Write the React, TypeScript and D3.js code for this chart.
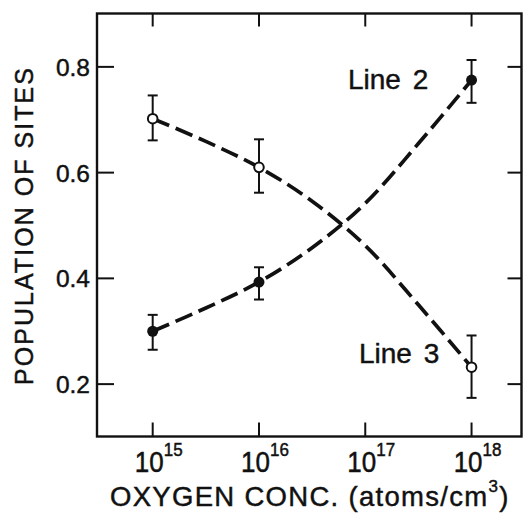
import React from "react";
import * as d3 from "d3";

const decades = [15, 16, 17, 18];
const yTicks = [0.2, 0.4, 0.6, 0.8];
const pointExp = [15, 16, 18];
const line2Values = [0.3, 0.393, 0.775];
const line2Lower = [0.265, 0.36, 0.732];
const line2Upper = [0.331, 0.421, 0.813];
const line3Values = [0.702, 0.61, 0.232];
const line3Lower = [0.661, 0.562, 0.174];
const line3Upper = [0.746, 0.663, 0.292];
const fitExp = [15, 15.5, 16, 16.5, 17, 17.5, 18];
const line2Fit = [0.3, 0.344, 0.393, 0.458, 0.542, 0.655, 0.775];
const line3Fit = [0.702, 0.659, 0.61, 0.546, 0.462, 0.35, 0.232];

const W = 523;
const H = 519;
const L = 97, R = 521.5, T = 13.5, B = 436.5;
const FONT = "'Liberation Sans', Arial, Helvetica, sans-serif";
const INK = "#111";
const TXT = { fontFamily: FONT, fill: INK, stroke: INK, strokeWidth: 0.45 } as const;

export default function App() {
  const x = d3.scaleLog().domain([Math.pow(10, 14.476), Math.pow(10, 18.47)]).range([L, R]);
  const y = d3.scaleLinear().domain([0.1, 0.9]).range([437, 14]);
  const px = (e: number) => x(Math.pow(10, e));

  const line = d3
    .line<[number, number]>()
    .x((d) => px(d[0]))
    .y((d) => y(d[1]))
    .curve(d3.curveCatmullRom.alpha(0.5));

  const fit2 = line(fitExp.map((e, i) => [e, line2Fit[i]] as [number, number])) || "";
  const fit3 = line(fitExp.map((e, i) => [e, line3Fit[i]] as [number, number])) || "";

  const errBars = (vals: number[], lo: number[], hi: number[], key: string) =>
    vals.map((_, i) => {
      const cx = px(pointExp[i]);
      return (
        <g key={key + i} stroke={INK} strokeWidth={2}>
          <line x1={cx} x2={cx} y1={y(hi[i])} y2={y(lo[i])} />
          <line x1={cx - 5} x2={cx + 5} y1={y(hi[i])} y2={y(hi[i])} />
          <line x1={cx - 5} x2={cx + 5} y1={y(lo[i])} y2={y(lo[i])} />
        </g>
      );
    });

  return (
    <svg width={W} height={H} style={{ position: "absolute", left: 0, top: 0, background: "#fff" }}>
      <rect x={0} y={0} width={W} height={H} fill="#fff" />
      {/* frame */}
      <rect x={L} y={T} width={R - L} height={B - T} fill="none" stroke={INK} strokeWidth={2.4} />
      {/* x ticks */}
      {decades.map((e) => (
        <g key={"xt" + e} stroke={INK} strokeWidth={2}>
          <line x1={px(e)} x2={px(e)} y1={B} y2={B - 14} />
          <line x1={px(e)} x2={px(e)} y1={T} y2={T + 13} />
        </g>
      ))}
      {/* y ticks */}
      {yTicks.map((v) => (
        <g key={"yt" + v} stroke={INK} strokeWidth={2}>
          <line x1={L} x2={L + 17} y1={y(v)} y2={y(v)} />
          <line x1={R} x2={R - 14} y1={y(v)} y2={y(v)} />
        </g>
      ))}
      {/* x tick labels */}
      {decades.map((e) => (
        <g key={"xl" + e} transform={`translate(${px(e) + 6},471.5) scale(1,1.12)`}>
          <text x={0} y={0} textAnchor="middle" fontSize={26} {...TXT}>
            <tspan>10</tspan>
            <tspan dy={-13.5} fontSize={17}>{e}</tspan>
          </text>
        </g>
      ))}
      {/* y tick labels */}
      {yTicks.map((v) => (
        <text key={"yl" + v} x={90} y={y(v) + 9} textAnchor="end" fontSize={24.5} {...TXT}>
          {v.toFixed(1)}
        </text>
      ))}
      {/* axis titles */}
      <text
        transform={`translate(33,226.5) rotate(-90)`}
        textAnchor="middle"
        fontSize={25}
        textLength={317}
        lengthAdjust="spacing"
        {...TXT}
      >
        POPULATION OF SITES
      </text>
      <text x={110} y={506} fontSize={27.5} letterSpacing={1.3} {...TXT}>
        <tspan>OXYGEN CONC. (atoms/cm</tspan>
        <tspan dy={-14} fontSize={17}>3</tspan>
        <tspan dy={14}>)</tspan>
      </text>
      {/* fitted dashed curves */}
      <path d={fit2} fill="none" stroke={INK} strokeWidth={3.7} strokeDasharray="18 7" />
      <path d={fit3} fill="none" stroke={INK} strokeWidth={3.7} strokeDasharray="18 7" />
      {/* error bars */}
      {errBars(line2Values, line2Lower, line2Upper, "e2")}
      {errBars(line3Values, line3Lower, line3Upper, "e3")}
      {/* markers */}
      {line2Values.map((v, i) => (
        <circle key={"m2" + i} cx={px(pointExp[i])} cy={y(v)} r={5.5} fill={INK} />
      ))}
      {line3Values.map((v, i) => (
        <circle key={"m3" + i} cx={px(pointExp[i])} cy={y(v)} r={4.8} fill="#fff" stroke={INK} strokeWidth={2} />
      ))}
      {/* line labels */}
      <text x={348} y={89} fontSize={28} wordSpacing={4} {...TXT}>
        Line 2
      </text>
      <text x={359} y={363} fontSize={28} wordSpacing={4} {...TXT}>
        Line 3
      </text>
    </svg>
  );
}
